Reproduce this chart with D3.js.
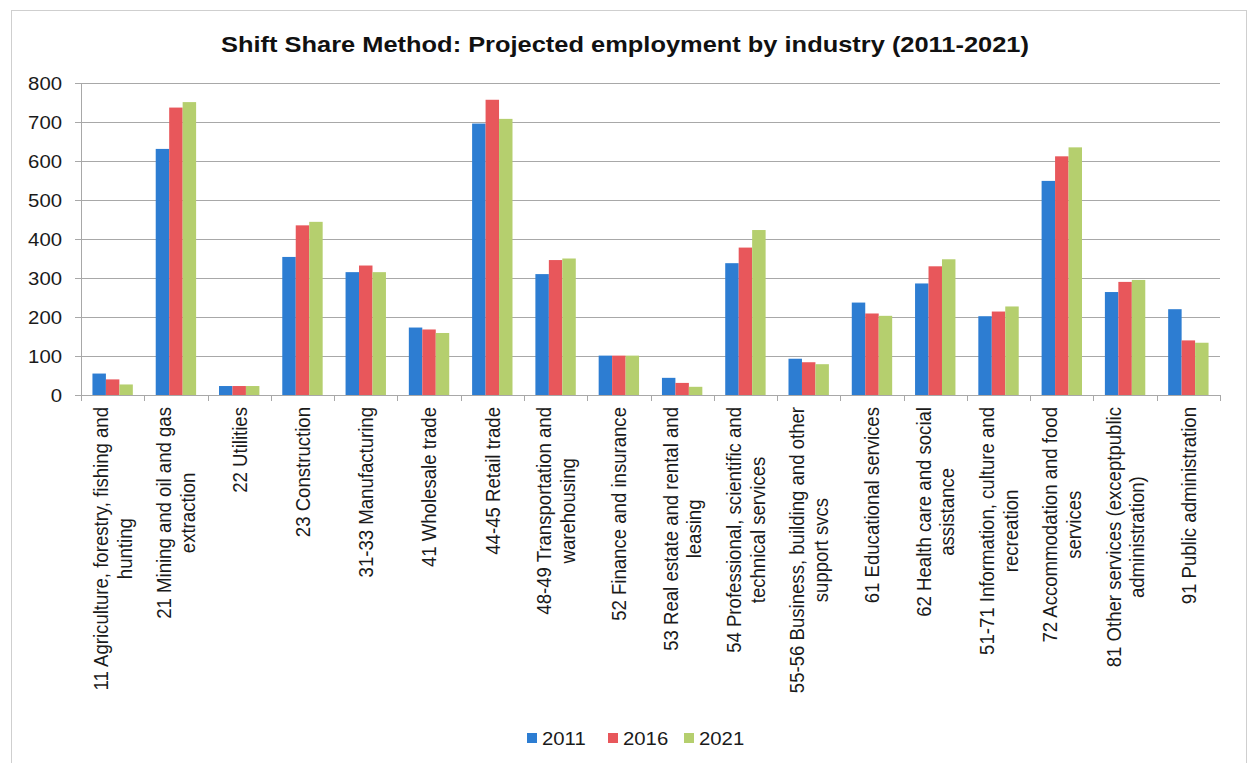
<!DOCTYPE html>
<html>
<head>
<meta charset="utf-8">
<script src="https://cdn.jsdelivr.net/npm/d3@7"></script>
<style>
    body { margin: 0; background: #fff; }
    svg { display: block; font-family: 'Liberation Sans', Arial, sans-serif; }
</style>
</head>
<body>
<div id="chart"></div>
<script>
// industry labels, "\n" marks where the original label wraps
var categories = [
    '11 Agriculture, forestry, fishing and\nhunting',
    '21 Mining and oil and gas\nextraction',
    '22 Utilities',
    '23 Construction',
    '31-33 Manufacturing',
    '41 Wholesale trade',
    '44-45 Retail trade',
    '48-49 Transportation and\nwarehousing',
    '52 Finance and insurance',
    '53 Real estate and rental and\nleasing',
    '54 Professional, scientific and\ntechnical services',
    '55-56 Business, building and other\nsupport svcs',
    '61 Educational services',
    '62 Health care and social\nassistance',
    '51-71 Information, culture and\nrecreation',
    '72 Accommodation and food\nservices',
    '81 Other services (exceptpublic\nadministration)',
    '91 Public administration'
];
var years = ['2011', '2016', '2021'];
var values2011 = [55, 631, 23, 354, 315, 173, 696, 310, 101, 44, 338, 93, 237, 286, 202, 549, 264, 220];
var values2016 = [40, 737, 23, 435, 332, 168, 757, 346, 101, 31, 378, 84, 209, 330, 214, 612, 290, 140];
var values2021 = [27, 751, 23, 444, 315, 159, 708, 350, 101, 21, 423, 79, 203, 348, 227, 635, 295, 134];
var yTicks = [0, 100, 200, 300, 400, 500, 600, 700, 800];
var colors = ['#2d7dd2', '#e8575b', '#b5cf6e'];

var series = [values2011, values2016, values2021];
var stretch = 1.13; // the source picture is a bit wider than tall

var width = 1248, height = 763;
var margin = { top: 83, left: 81, right: 28, bottom: 368 };
var plotW = width - margin.left - margin.right;
var plotH = height - margin.top - margin.bottom;

var svg = d3.select('#chart').append('svg')
    .attr('width', width)
    .attr('height', height);

// outer chart frame
svg.append('rect')
    .attr('x', 11.5).attr('y', 10.5)
    .attr('width', 1235).attr('height', 770)
    .attr('fill', '#fff')
    .attr('stroke', '#cfcfcf');

svg.append('text')
    .attr('transform', 'translate(625,52) scale(' + stretch + ',1)')
    .attr('text-anchor', 'middle')
    .style('font-size', '22.5px')
    .style('font-weight', 'bold')
    .attr('fill', '#111')
    .text('Shift Share Method: Projected employment by industry (2011-2021)');

var g = svg.append('g')
    .attr('transform', 'translate(' + margin.left + ',' + margin.top + ')');

var x = d3.scaleBand()
    .domain(d3.range(categories.length))
    .range([0, plotW])
    .padding(0);
var x1 = d3.scaleBand()
    .domain(years)
    .range([0, x.bandwidth()])
    .paddingInner(0)
    .paddingOuter(0.85);
var y = d3.scaleLinear()
    .domain([0, 800])
    .range([plotH, 0]);

// gridlines with outward ticks
g.append('g')
    .selectAll('line')
    .data(yTicks)
    .enter().append('line')
    .attr('x1', -6).attr('x2', plotW)
    .attr('y1', function (d) { return Math.round(y(d)) + 0.5; })
    .attr('y2', function (d) { return Math.round(y(d)) + 0.5; })
    .attr('stroke', '#a8a8a8');

g.append('g')
    .selectAll('text')
    .data(yTicks)
    .enter().append('text')
    .attr('transform', function (d) {
        return 'translate(-19,' + (y(d) + 6.5) + ') scale(' + stretch + ',1)';
    })
    .attr('text-anchor', 'end')
    .style('font-size', '18px')
    .attr('fill', '#1a1a1a')
    .text(function (d) { return d; });

// y axis line
g.append('line')
    .attr('x1', 0.5).attr('x2', 0.5)
    .attr('y1', 0).attr('y2', plotH)
    .attr('stroke', '#a8a8a8');

// bars
var groups = g.selectAll('.grp')
    .data(categories)
    .enter().append('g')
    .attr('class', 'grp')
    .attr('transform', function (d, i) { return 'translate(' + x(i) + ',0)'; });

groups.selectAll('rect')
    .data(function (d, i) {
        return years.map(function (yr, k) { return { year: yr, value: series[k][i], k: k }; });
    })
    .enter().append('rect')
    .attr('x', function (d) { return x1(d.year); })
    .attr('width', x1.bandwidth())
    .attr('y', function (d) { return y(d.value); })
    .attr('height', function (d) { return plotH - y(d.value); })
    .attr('fill', function (d) { return colors[d.k]; });

// category ticks on the base line
var bottom = g.append('g').attr('transform', 'translate(0,' + plotH + ')');
bottom.append('line')
    .attr('x1', 0).attr('x2', plotW)
    .attr('y1', 0.5).attr('y2', 0.5)
    .attr('stroke', '#a8a8a8');
bottom.selectAll('.tick')
    .data(d3.range(categories.length + 1))
    .enter().append('line')
    .attr('x1', function (d) { return Math.round(d * x.step()) + 0.5; })
    .attr('x2', function (d) { return Math.round(d * x.step()) + 0.5; })
    .attr('y1', 0).attr('y2', 6)
    .attr('stroke', '#a8a8a8');

// rotated, wrapped category labels
var labels = bottom.selectAll('.lbl')
    .data(categories)
    .enter().append('text')
    .attr('class', 'lbl')
    .attr('transform', function (d, i) {
        return 'translate(' + (x(i) + x.bandwidth() / 2) + ',12) scale(' + stretch + ',1) rotate(-90)';
    })
    .attr('text-anchor', 'middle')
    .style('font-size', '18.6px')
    .attr('fill', '#1a1a1a');

labels.each(function (d) {
    var lines = d.split('\n');
    var el = d3.select(this);
    var lh = 21;
    var spans = lines.map(function (line, j) {
        return el.append('tspan')
            .attr('y', (j - (lines.length - 1) / 2) * lh)
            .attr('dy', '0.35em')
            .text(line);
    });
    var maxLen = d3.max(spans, function (s) { return s.node().getComputedTextLength(); });
    spans.forEach(function (s) { s.attr('x', -maxLen / 2); });
});

// legend
var legendX = [527, 608, 684];
var legend = svg.append('g');
years.forEach(function (yr, k) {
    legend.append('rect')
        .attr('x', legendX[k]).attr('y', 733)
        .attr('width', 10).attr('height', 10)
        .attr('fill', colors[k]);
    legend.append('text')
        .attr('transform', 'translate(' + (legendX[k] + 15) + ',745) scale(' + stretch + ',1)')
        .style('font-size', '18px')
        .attr('fill', '#1a1a1a')
        .text(yr);
});
</script>
</body>
</html>
